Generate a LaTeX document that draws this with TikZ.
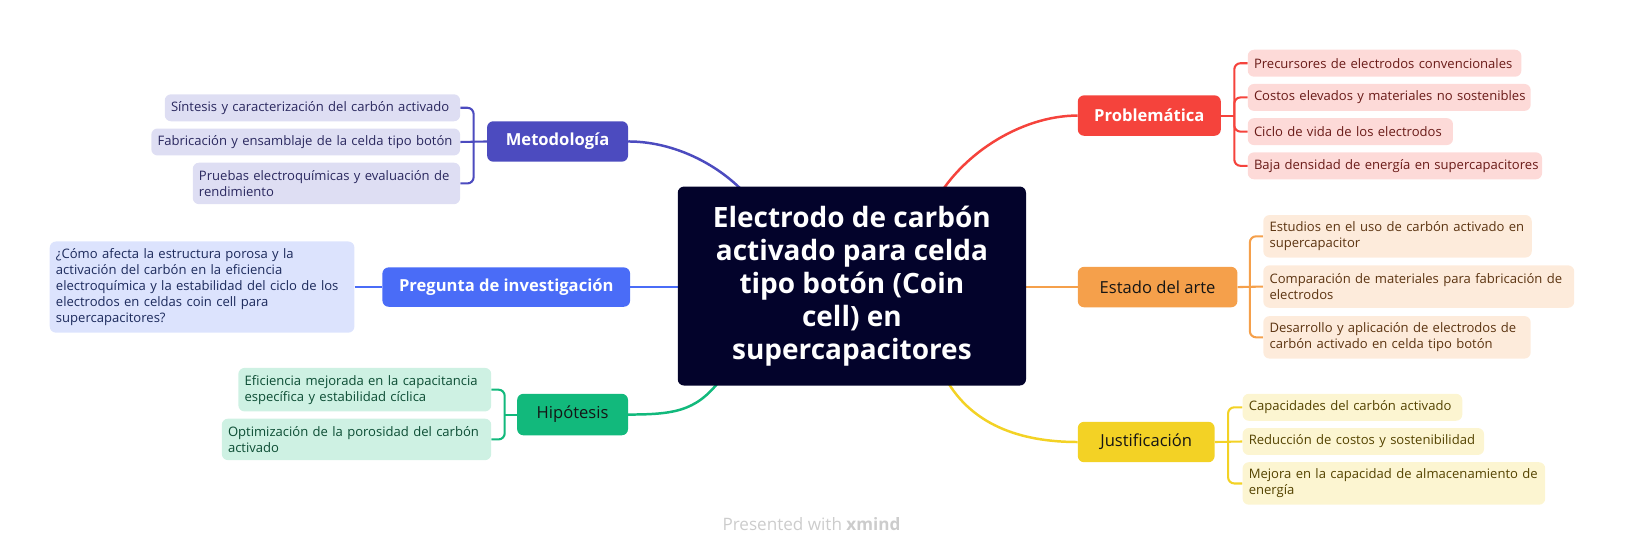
\documentclass[tikz,border=0pt]{standalone}
\usepackage{fontspec}
\setmainfont{Open Sans}
\usetikzlibrary{calc}
\pgfdeclarelayer{bg}
\pgfsetlayers{bg,main}
\hbadness=10000 \hfuzz=50pt
\newcommand{\oneline}[1]{\mbox{#1}}
\definecolor{cnavy}{HTML}{03032B}
\definecolor{metc}{HTML}{4C4BBF}
\definecolor{metleaf}{HTML}{DEDEF3}
\definecolor{mettext}{HTML}{2A285F}
\definecolor{pregc}{HTML}{4A6CF7}
\definecolor{pregleaf}{HTML}{DCE3FD}
\definecolor{pregtext}{HTML}{1C2A5C}
\definecolor{hipc}{HTML}{12B97C}
\definecolor{hipleaf}{HTML}{CEF1E3}
\definecolor{hiptext}{HTML}{0C4D34}
\definecolor{probc}{HTML}{F5433C}
\definecolor{probleaf}{HTML}{FDDAD8}
\definecolor{probtext}{HTML}{6A1B18}
\definecolor{estc}{HTML}{F5A04B}
\definecolor{estleaf}{HTML}{FDEBDB}
\definecolor{esttext}{HTML}{5C3411}
\definecolor{jusc}{HTML}{F3D225}
\definecolor{jusleaf}{HTML}{FCF5D1}
\definecolor{justext}{HTML}{544300}
\definecolor{darktxt}{HTML}{151515}
\definecolor{wmark}{HTML}{CCCCCC}
\begin{document}
\begin{tikzpicture}[x=1pt,y=-1pt,
  leaf/.style={rounded corners=6pt, inner xsep=6pt, inner ysep=0pt, align=left,
    font=\fontsize{12.6}{15.5}\selectfont},
  topic/.style={rounded corners=6pt, inner sep=0pt, minimum height=39pt,
    font=\fontsize{16}{20}\selectfont},
  conn/.style={line width=2.4pt},
  brk/.style={line width=2pt, rounded corners=6pt}
]
\useasboundingbox (0,0) rectangle (1568,536.5);

% central
\node[fill=cnavy, rounded corners=6pt, minimum width=336pt, minimum height=192pt,
  inner sep=0pt, text=white, align=center, font=\fontsize{27}{32}\selectfont\bfseries]
  (C) at (822,276) {Electrodo de carbón\\activado para celda\\tipo botón (Coin\\cell) en\\supercapacitores};

% Metodologia
\node[topic, fill=metc, text=white, minimum width=136pt, font=\fontsize{16}{20}\selectfont\bfseries] (Met) at (538,136.5) {Metodología};
\node[leaf, fill=metleaf, text=mettext, text width=273pt, minimum height=26pt] (M1) at (301.5,104) {\oneline{Síntesis y caracterización del carbón activado}};
\node[leaf, fill=metleaf, text=mettext, text width=286pt, minimum height=26pt] (M2) at (295,137) {\oneline{Fabricación y ensamblaje de la celda tipo botón}};
\node[leaf, fill=metleaf, text=mettext, text width=246pt, minimum height=40pt] (M3) at (315,177) {\oneline{Pruebas electroquímicas y evaluación de}\\\oneline{rendimiento}};
\coordinate (mj) at (457,136.5);

% Pregunta
\node[topic, fill=pregc, text=white, minimum width=239pt, minimum height=38pt, font=\fontsize{16}{20}\selectfont\bfseries] (Preg) at (488.5,277) {Pregunta de investigación};
\node[leaf, fill=pregleaf, text=pregtext, text width=282pt, minimum height=88pt] (Q) at (195,277) {\oneline{¿Cómo afecta la estructura porosa y la}\\\oneline{activación del carbón en la eficiencia}\\\oneline{electroquímica y la estabilidad del ciclo de los}\\\oneline{electrodos en celdas coin cell para}\\\oneline{supercapacitores?}};

% Hipotesis
\node[topic, fill=hipc, text=darktxt, minimum width=107pt, minimum height=40pt] (Hip) at (552.5,400) {Hipótesis};
\node[leaf, fill=hipleaf, text=hiptext, text width=232pt, minimum height=42pt] (H1) at (352,376) {\oneline{Eficiencia mejorada en la capacitancia}\\\oneline{específica y estabilidad cíclica}};
\node[leaf, fill=hipleaf, text=hiptext, text width=248pt, minimum height=40pt] (H2) at (344,424) {\oneline{Optimización de la porosidad del carbón}\\\oneline{activado}};
\coordinate (hj) at (487,400);

% Problematica
\node[topic, fill=probc, text=white, minimum width=138pt, font=\fontsize{16}{20}\selectfont\bfseries] (Prob) at (1109,111.5) {Problemática};
\node[leaf, fill=probleaf, text=probtext, text width=252pt, minimum height=26pt] (P1) at (1336,61) {\oneline{Precursores de electrodos convencionales}};
\node[leaf, fill=probleaf, text=probtext, text width=261pt, minimum height=26pt] (P2) at (1340.5,94) {\oneline{Costos elevados y materiales no sostenibles}};
\node[leaf, fill=probleaf, text=probtext, text width=186pt, minimum height=26pt] (P3) at (1303,127) {\oneline{Ciclo de vida de los electrodos}};
\node[leaf, fill=probleaf, text=probtext, text width=272pt, minimum height=26pt] (P4) at (1346,160) {\oneline{Baja densidad de energía en supercapacitores}};
\coordinate (pj) at (1191,111.5);

% Estado del arte
\node[topic, fill=estc, text=darktxt, minimum width=154pt] (Est) at (1117,277) {Estado del arte};
\node[leaf, fill=estleaf, text=esttext, text width=247pt, minimum height=41pt] (E1) at (1348.5,228) {\oneline{Estudios en el uso de carbón activado en}\\\oneline{supercapacitor}};
\node[leaf, fill=estleaf, text=esttext, text width=288pt, minimum height=41pt] (E2) at (1369,276.5) {\oneline{Comparación de materiales para fabricación de}\\\oneline{electrodos}};
\node[leaf, fill=estleaf, text=esttext, text width=246pt, minimum height=41pt] (E3) at (1348,325.5) {\oneline{Desarrollo y aplicación de electrodos de}\\\oneline{carbón activado en celda tipo botón}};
\coordinate (ej) at (1206,277);

% Justificacion
\node[topic, fill=jusc, text=darktxt, minimum width=132pt] (Jus) at (1106,426.5) {Justificación};
\node[leaf, fill=jusleaf, text=justext, text width=200pt, minimum height=26pt] (J1) at (1305,393) {\oneline{Capacidades del carbón activado}};
\node[leaf, fill=jusleaf, text=justext, text width=221pt, minimum height=26pt] (J2) at (1315.5,426) {\oneline{Reducción de costos y sostenibilidad}};
\node[leaf, fill=jusleaf, text=justext, text width=280pt, minimum height=41pt] (J3) at (1345,466.5) {\oneline{Mejora en la capacidad de almacenamiento de}\\\oneline{energía}};
\coordinate (jj) at (1185,426.5);

% watermark
\node[text=wmark, font=\fontsize{16.5}{19}\selectfont] (WM) at (783,506) {Presented with \textbf{xmind}};

\begin{pgfonlayer}{bg}
% main connectors
\draw[conn, metc] (Met.east) .. controls +(50,0) and +(-25,-35) .. ([shift={(76,20)}]C.north west);
\draw[conn, pregc] (Preg.east) -- (C.west |- Preg.east);
\draw[conn, hipc] (Hip.east) .. controls +(50,0) and +(-25,35) .. ([shift={(46,-12)}]C.south west);
\draw[conn, probc] ([shift={(246,20)}]C.north west) .. controls +(25,-50) and +(-55,0) .. (Prob.west);
\draw[conn, estc] (C.east |- Est.west) -- (Est.west);
\draw[conn, jusc] ([shift={(256,-12)}]C.south west) .. controls +(25,50) and +(-55,0) .. (Jus.west);
% brackets
\draw[brk, metc] (M1.east) -| (mj) |- (M3.east);
\draw[brk, metc] (M2.east) -- (Met.west);
\draw[brk, pregc] (Q.east) -- (Preg.west);
\draw[brk, hipc] (H1.east) -| (hj) |- (H2.east);
\draw[brk, hipc] (hj) -- (Hip.west);
\draw[brk, probc] (P1.west) -| (pj) |- (P4.west);
\draw[brk, probc] (Prob.east) -- (pj);
\draw[brk, probc] (P2.west) -| (pj);
\draw[brk, probc] (P3.west) -| (pj);
\draw[brk, estc] (E1.west) -| (ej) |- (E3.west);
\draw[brk, estc] (Est.east) -- (E2.west);
\draw[brk, jusc] (J1.west) -| (jj) |- (J3.west);
\draw[brk, jusc] (Jus.east) -- (J2.west);
\end{pgfonlayer}
\end{tikzpicture}
\end{document}
